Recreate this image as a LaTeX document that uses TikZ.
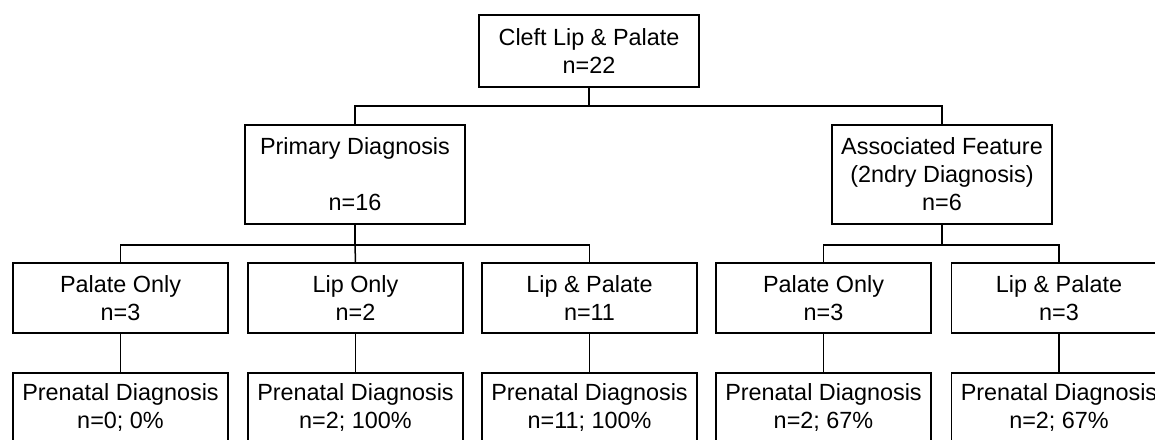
\documentclass[tikz,border=0pt]{standalone}
\usepackage{fontspec}
\setmainfont{Liberation Sans}
\begin{document}
\begin{tikzpicture}[x=1pt,y=1pt,
  box/.style={draw=black, line width=1.5pt, fill=white, minimum width=220pt, align=center, inner sep=0pt,
    font=\fontsize{23.4pt}{28pt}\selectfont},
  lvl3/.style={box, minimum width=215pt, minimum height=70pt},
  conn/.style={draw=black, line width=1.5pt}]
\useasboundingbox (0,0) rectangle (1155,-439);
\fill[white] (0,0) rectangle (1155,-439);
% nodes
\node[box, minimum height=72pt] (top) at (589,-51) {Cleft Lip \& Palate\\n=22};
\node[box, minimum height=99pt] (prim) at (355,-174.5) {Primary Diagnosis\\[28pt]n=16};
\node[box, minimum height=99pt] (assoc) at (942,-174.5) {Associated Feature\\(2ndry Diagnosis)\\n=6};
\node[lvl3] (po) at (120.5,-298) {Palate Only\\n=3};
\node[lvl3] (lo) at (355.5,-298) {Lip Only\\n=2};
\node[lvl3] (lp) at (589.5,-298) {Lip \& Palate\\n=11};
\node[lvl3] (apo) at (823.5,-298) {Palate Only\\n=3};
\node[lvl3] (alp) at (1059,-298) {Lip \& Palate\\n=3};
\node[lvl3] (ppo) at (120.5,-408) {Prenatal Diagnosis\\n=0; 0\%};
\node[lvl3] (plo) at (355.5,-408) {Prenatal Diagnosis\\n=2; 100\%};
\node[lvl3] (plp) at (589.5,-408) {Prenatal Diagnosis\\n=11; 100\%};
\node[lvl3] (papo) at (823.5,-408) {Prenatal Diagnosis\\n=2; 67\%};
\node[lvl3] (palp) at (1059,-408) {Prenatal Diagnosis\\n=2; 67\%};
% connectors
\draw[conn] (top.south) -- ++(0,-18) coordinate (b1);
\draw[conn] (prim.north) |- (b1) -| (assoc.north);
\draw[conn] (prim.south) -- ++(0,-20) coordinate (b2);
\draw[conn] (po.north) |- (b2) -| (lp.north);
\draw[conn] (b2) -- (lo.north);
\draw[conn] (assoc.south) -- ++(0,-20) coordinate (b3);
\draw[conn] (apo.north) |- (b3) -| (alp.north);
\draw[conn] (po.south) -- (ppo.north);
\draw[conn] (lo.south) -- (plo.north);
\draw[conn] (lp.south) -- (plp.north);
\draw[conn] (apo.south) -- (papo.north);
\draw[conn] (alp.south) -- (palp.north);
\end{tikzpicture}
\end{document}
